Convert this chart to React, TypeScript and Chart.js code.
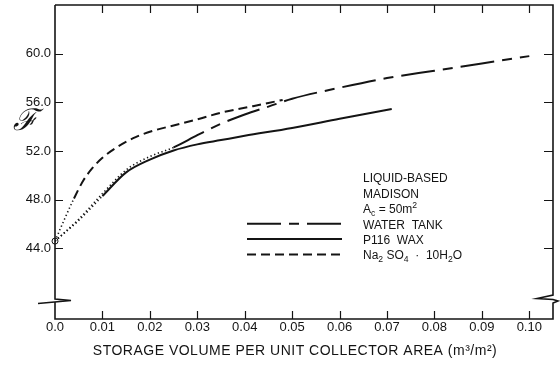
import { useEffect, useRef } from 'react';
import { Chart, registerables } from 'chart.js';

Chart.register(...registerables);

// Axis ticks
const xTickValues = [0, 0.01, 0.02, 0.03, 0.04, 0.05, 0.06, 0.07, 0.08, 0.09, 0.1];
const xTickLabels = ['0.0', '0.01', '0.02', '0.03', '0.04', '0.05', '0.06', '0.07', '0.08', '0.09', '0.10'];
const yTickValues = [44, 48, 52, 56, 60];
const yTickLabels = ['44.0', '48.0', '52.0', '56.0', '60.0'];

// Water tank storage
const waterTankX = [0, 0.005, 0.01, 0.015, 0.02, 0.025, 0.03, 0.035, 0.04, 0.045, 0.05, 0.06, 0.07, 0.08, 0.09, 0.1];
const waterTankY = [44.6, 46.4, 48.5, 50.45, 51.55, 52.3, 53.3, 54.25, 55.0, 55.65, 56.3, 57.2, 58.0, 58.6, 59.2, 59.8];

// P116 wax storage
const waxX = [0, 0.005, 0.01, 0.015, 0.02, 0.025, 0.03, 0.035, 0.04, 0.05, 0.06, 0.071];
const waxY = [44.6, 46.3, 48.3, 50.25, 51.3, 52.05, 52.55, 52.9, 53.25, 53.9, 54.65, 55.45];

// Na2SO4 · 10H2O storage
const sodiumX = [0, 0.002, 0.004, 0.006, 0.008, 0.01, 0.013, 0.017, 0.021, 0.025, 0.03, 0.035, 0.04, 0.045, 0.048];
const sodiumY = [44.6, 46.4, 48.1, 49.6, 50.65, 51.45, 52.3, 53.15, 53.7, 54.1, 54.6, 55.15, 55.55, 55.95, 56.2];

// Common starting point
const originX = [0];
const originY = [44.6];

// Where each curve switches from dotted to its own line style
const waterTankDottedTo = 0.025;
const waxDottedTo = 0.01;
const sodiumDottedTo = 0.004;

const INK = '#141414';
const FONT = '"Liberation Sans", Arial, sans-serif';
const DOT = [1.3, 2.6];
const WATER_DASH = [34, 8, 10, 8];
const SODIUM_DASH = [9, 5];

const pts = (xs: number[], ys: number[]) => xs.map((x, i) => ({ x, y: ys[i] }));

type Part = { t: string; sub?: boolean; sup?: boolean };

function drawRich(ctx: CanvasRenderingContext2D, parts: Part[], x: number, y: number, size: number) {
  let cx = x;
  for (const p of parts) {
    const s = p.sub || p.sup ? size * 0.72 : size;
    ctx.font = `${s}px ${FONT}`;
    const dy = p.sub ? size * 0.32 : p.sup ? -size * 0.35 : 0;
    ctx.fillText(p.t, cx, y + dy);
    cx += ctx.measureText(p.t).width;
  }
}

const legendHeader: Part[][] = [
  [{ t: 'LIQUID-BASED' }],
  [{ t: 'MADISON' }],
  [{ t: 'A' }, { t: 'c', sub: true }, { t: ' = 50m' }, { t: '2', sup: true }],
];
const legendEntries: Part[][] = [
  [{ t: 'WATER  TANK' }],
  [{ t: 'P116  WAX' }],
  [{ t: 'Na' }, { t: '2', sub: true }, { t: ' SO' }, { t: '4', sub: true }, { t: '  ·  10H' }, { t: '2', sub: true }, { t: 'O' }],
];
const legendDashes = [WATER_DASH, [], SODIUM_DASH];

const framePlugin = {
  id: 'frameAndNotes',
  afterDraw(chart: any) {
    const { ctx, chartArea: a, scales } = chart;
    const xs = scales.x;
    const ys = scales.y;
    const L = a.left;
    const R = a.right;
    const T = a.top;
    const B = a.bottom;
    ctx.save();
    ctx.strokeStyle = INK;
    ctx.fillStyle = INK;
    ctx.lineJoin = 'miter';
    ctx.lineCap = 'butt';
    ctx.setLineDash([]);

    // frame with axis breaks
    ctx.lineWidth = 1.6;
    ctx.beginPath();
    ctx.moveTo(L, T);
    ctx.lineTo(R, T);
    ctx.lineTo(R, B - 24);
    ctx.lineTo(R - 16, B - 20.5);
    ctx.lineTo(R, B - 19.5);
    ctx.lineTo(R + 5, B - 18);
    ctx.lineTo(R, B - 16);
    ctx.lineTo(R, B);
    ctx.lineTo(L, B);
    ctx.lineTo(L, B - 17);
    ctx.stroke();
    ctx.beginPath();
    ctx.moveTo(L, T);
    ctx.lineTo(L, B - 20);
    ctx.lineTo(L + 16, B - 18.5);
    ctx.lineTo(L - 17, B - 15.5);
    ctx.stroke();

    // inward tick marks
    ctx.lineWidth = 1.2;
    ctx.beginPath();
    for (const v of xTickValues) {
      const px = Math.round(xs.getPixelForValue(v)) + 0.5;
      if (px - L < 2) continue;
      ctx.moveTo(px, B);
      ctx.lineTo(px, B - 8);
      ctx.moveTo(px, T);
      ctx.lineTo(px, T + 8);
    }
    for (const v of yTickValues) {
      const py = Math.round(ys.getPixelForValue(v)) + 0.5;
      ctx.moveTo(L, py);
      ctx.lineTo(L + 8, py);
      ctx.moveTo(R, py);
      ctx.lineTo(R - 9, py);
    }
    ctx.stroke();

    // axis titles
    ctx.textBaseline = 'middle';
    ctx.textAlign = 'center';
    ctx.font = `italic 30px "DejaVu Serif", serif`;
    ctx.fillText('\u2131', 25, 122);
    ctx.font = `14px ${FONT}`;
    (ctx as any).letterSpacing = '0.5px';
    ctx.fillText('STORAGE VOLUME PER UNIT COLLECTOR AREA (m\u00B3/m\u00B2)', L + 240, B + 32);
    (ctx as any).letterSpacing = '0px';

    // legend block
    ctx.textAlign = 'left';
    const tx = L + 308;
    const rowY = T + 174;
    const step = 15.4;
    legendHeader.forEach((parts, i) => drawRich(ctx, parts, tx, rowY + i * step, 12));
    legendEntries.forEach((parts, i) => {
      const y = rowY + (i + 3) * step;
      drawRich(ctx, parts, tx, y, 12);
      ctx.lineWidth = 2;
      ctx.setLineDash(legendDashes[i]);
      ctx.beginPath();
      ctx.moveTo(L + 192, y - 1.5);
      ctx.lineTo(L + 287, y - 1.5);
      ctx.stroke();
    });
    ctx.setLineDash([]);
    ctx.restore();
  },
};

export default function App() {
  const ref = useRef<HTMLCanvasElement | null>(null);

  useEffect(() => {
    if (!ref.current) return;
    const tickFont = { family: FONT, size: 13 };
    const chart = new Chart(ref.current, {
      type: 'line',
      data: {
        datasets: [
          {
            label: 'WATER TANK',
            data: pts(waterTankX, waterTankY),
            borderColor: INK,
            borderWidth: 2,
            borderDash: WATER_DASH,
            pointRadius: 0,
            cubicInterpolationMode: 'monotone',
            segment: {
              borderDash: (c: any) => (c.p1.parsed.x <= waterTankDottedTo + 1e-9 ? DOT : undefined),
              borderWidth: (c: any) => (c.p1.parsed.x <= waterTankDottedTo + 1e-9 ? 1.6 : undefined),
            },
          },
          {
            label: 'P116 WAX',
            data: pts(waxX, waxY),
            borderColor: INK,
            borderWidth: 2,
            pointRadius: 0,
            cubicInterpolationMode: 'monotone',
            segment: {
              borderDash: (c: any) => (c.p1.parsed.x <= waxDottedTo + 1e-9 ? DOT : undefined),
              borderWidth: (c: any) => (c.p1.parsed.x <= waxDottedTo + 1e-9 ? 1.6 : undefined),
            },
          },
          {
            label: 'Na2SO4 · 10H2O',
            data: pts(sodiumX, sodiumY),
            borderColor: INK,
            borderWidth: 2,
            borderDash: SODIUM_DASH,
            pointRadius: 0,
            cubicInterpolationMode: 'monotone',
            segment: {
              borderDash: (c: any) => (c.p1.parsed.x <= sodiumDottedTo + 1e-9 ? DOT : undefined),
              borderWidth: (c: any) => (c.p1.parsed.x <= sodiumDottedTo + 1e-9 ? 1.6 : undefined),
            },
          },
          {
            type: 'scatter',
            label: 'start',
            data: pts(originX, originY),
            pointRadius: 3,
            pointBackgroundColor: '#ffffff',
            pointBorderColor: INK,
            pointBorderWidth: 1,
            showLine: false,
            clip: false,
          } as any,
        ],
      },
      options: {
        animation: false,
        responsive: false,
        devicePixelRatio: 1,
        layout: { padding: { top: 5, right: 7, left: 0, bottom: 0 } },
        plugins: { legend: { display: false }, tooltip: { enabled: false } },
        scales: {
          x: {
            type: 'linear',
            min: 0,
            max: 0.105,
            grid: { display: false, drawTicks: false },
            border: { display: false },
            afterBuildTicks: (s: any) => {
              s.ticks = xTickValues.map((v) => ({ value: v }));
            },
            afterFit: (s: any) => {
              s.height = 47;
              s.paddingLeft = 0;
              s.paddingRight = 0;
            },
            ticks: {
              padding: 1,
              autoSkip: false,
              maxRotation: 0,
              color: INK,
              font: tickFont,
              callback: (_v: any, i: number) => xTickLabels[i],
            },
          },
          y: {
            type: 'linear',
            min: 38.2,
            max: 64,
            grid: { display: false, drawTicks: false },
            border: { display: false },
            afterBuildTicks: (s: any) => {
              s.ticks = yTickValues.map((v) => ({ value: v }));
            },
            afterFit: (s: any) => {
              s.width = 55;
              s.paddingTop = 0;
              s.paddingBottom = 0;
            },
            ticks: {
              padding: 4,
              color: INK,
              font: tickFont,
              callback: (_v: any, i: number) => yTickLabels[i],
            },
          },
        },
      },
      plugins: [framePlugin],
    });
    return () => chart.destroy();
  }, []);

  return (
    <div style={{ position: 'absolute', left: 0, top: 0, width: 560, height: 366, background: '#ffffff' }}>
      <canvas ref={ref} width={560} height={366} style={{ width: 560, height: 366, display: 'block' }} />
    </div>
  );
}
